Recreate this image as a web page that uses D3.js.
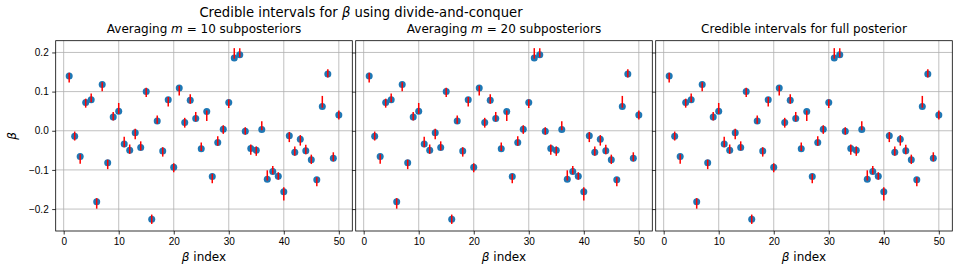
<!DOCTYPE html>
<html>
  <head>
    <meta charset="utf-8">
    <script src="https://d3js.org/d3.v7.min.js"></script>
    <style>
      body { margin: 0; background: #fff; }
      svg { font-family: "DejaVu Sans", sans-serif; }
      .tick text { font-size: 10px; fill: #000; }
      .tick line { stroke: #000; stroke-width: 0.8px; }
      .domain { display: none; }
      .grid line { stroke: #b0b0b0; stroke-width: 0.8px; }
    </style>
  </head>
  <body>
    <svg width="959" height="273"></svg>
    <script>

    // beta index 1..50
    var idx = d3.range(1, 51);

    // posterior means (dots)
    var means = [0.140, -0.014, -0.066, 0.072, 0.079, -0.181, 0.118, -0.082, 0.035, 0.050,
                 -0.034, -0.050, -0.005, -0.043, 0.100, -0.226, 0.025, -0.052, 0.079, -0.093,
                 0.109, 0.021, 0.078, 0.031, -0.046, 0.049, -0.117, -0.030, 0.004, 0.072,
                 0.186, 0.194, -0.001, -0.045, -0.050, 0.003, -0.124, -0.104, -0.116, -0.156,
                 -0.013, -0.055, -0.022, -0.051, -0.074, -0.125, 0.062, 0.145, -0.070, 0.040];

    // interval lower / upper ends
    var lower = [0.123, -0.025, -0.084, 0.059, 0.073, -0.199, 0.101, -0.098, 0.026, 0.043,
                 -0.042, -0.059, -0.022, -0.050, 0.086, -0.238, 0.018, -0.066, 0.062, -0.106,
                 0.090, 0.008, 0.069, 0.024, -0.052, 0.025, -0.134, -0.038, -0.008, 0.058,
                 0.184, 0.188, -0.010, -0.061, -0.064, 0.001, -0.127, -0.111, -0.125, -0.178,
                 -0.029, -0.064, -0.038, -0.060, -0.085, -0.142, 0.059, 0.136, -0.078, 0.029];
    var upper = [0.148, -0.002, -0.060, 0.082, 0.095, -0.172, 0.124, -0.074, 0.048, 0.071,
                 -0.015, -0.035, 0.005, -0.027, 0.110, -0.214, 0.039, -0.042, 0.086, -0.083,
                 0.115, 0.033, 0.093, 0.048, -0.030, 0.052, -0.110, -0.014, 0.014, 0.080,
                 0.211, 0.211, 0.009, -0.035, -0.040, 0.024, -0.101, -0.090, -0.106, -0.144,
                 -0.003, -0.040, -0.011, -0.036, -0.061, -0.119, 0.089, 0.157, -0.055, 0.052];

    var panelTitles = ["Averaging m = 10 subposteriors",
                       "Averaging m = 20 subposteriors",
                       "Credible intervals for full posterior"];
    var xTicks = [0, 10, 20, 30, 40, 50];
    var yTicks = [-0.2, -0.1, 0.0, 0.1, 0.2];

    var svg = d3.select("svg");
    var panelLeft = [55.7, 355.7, 655.7],
        panelW = 296.6,
        plotTop = 40.7, plotBottom = 231;

    var y = d3.scaleLinear().domain([-0.256, 0.230]).range([plotBottom, plotTop]);

    svg.append("text")
        .attr("x", 361).attr("y", 17)
        .attr("text-anchor", "middle")
        .attr("font-size", 13.2)
        .html('Credible intervals for <tspan font-style="italic">β</tspan> using divide-and-conquer');

    panelLeft.forEach(function(left, p) {
      var x = d3.scaleLinear().domain([-1.45, 52.45]).range([left, left + panelW]);
      var g = svg.append("g");

      // grid
      var grid = g.append("g").attr("class", "grid");
      grid.selectAll(".gx").data(xTicks).enter().append("line")
          .attr("x1", function(d) { return x(d); }).attr("x2", function(d) { return x(d); })
          .attr("y1", plotTop).attr("y2", plotBottom);
      grid.selectAll(".gy").data(yTicks).enter().append("line")
          .attr("y1", function(d) { return y(d); }).attr("y2", function(d) { return y(d); })
          .attr("x1", left).attr("x2", left + panelW);

      // dots
      g.selectAll(".dot").data(idx).enter().append("circle")
          .attr("cx", function(d) { return x(d); })
          .attr("cy", function(d, i) { return y(means[i]); })
          .attr("r", 3.5)
          .attr("fill", "#1f77b4");

      // intervals
      g.selectAll(".ci").data(idx).enter().append("line")
          .attr("x1", function(d) { return x(d); }).attr("x2", function(d) { return x(d); })
          .attr("y1", function(d, i) { return y(lower[i]); })
          .attr("y2", function(d, i) { return y(upper[i]); })
          .attr("stroke", "red")
          .attr("stroke-width", 1.5);

      // frame
      g.append("rect")
          .attr("x", left).attr("y", plotTop)
          .attr("width", panelW).attr("height", plotBottom - plotTop)
          .attr("fill", "none").attr("stroke", "#000").attr("stroke-width", 0.8);

      g.append("g")
          .attr("transform", "translate(0," + plotBottom + ")")
          .call(d3.axisBottom(x).tickValues(xTicks).tickSize(3.5).tickPadding(3.5));

      var ya = d3.axisLeft(y).tickValues(yTicks).tickSize(3.5).tickPadding(3.5)
          .tickFormat(function(d) { return p === 0 ? d3.format(".1f")(d).replace("-", "\u2212") : ""; });
      g.append("g")
          .attr("transform", "translate(" + left + ",0)")
          .call(ya);

      g.append("text")
          .attr("x", left + panelW / 2).attr("y", 33)
          .attr("text-anchor", "middle")
          .attr("font-size", 12)
          .html(panelTitles[p].replace(" m ", ' <tspan font-style="italic">m</tspan> '));

      g.append("text")
          .attr("x", left + panelW / 2).attr("y", 261)
          .attr("text-anchor", "middle")
          .attr("font-size", 12)
          .html('<tspan font-style="italic">β</tspan> index');
    });

    svg.append("text")
        .attr("transform", "translate(16," + y(-0.013) + ") rotate(-90)")
        .attr("text-anchor", "middle")
        .attr("font-size", 12)
        .attr("font-style", "italic")
        .text("β");

    </script>
  </body>
</html>
